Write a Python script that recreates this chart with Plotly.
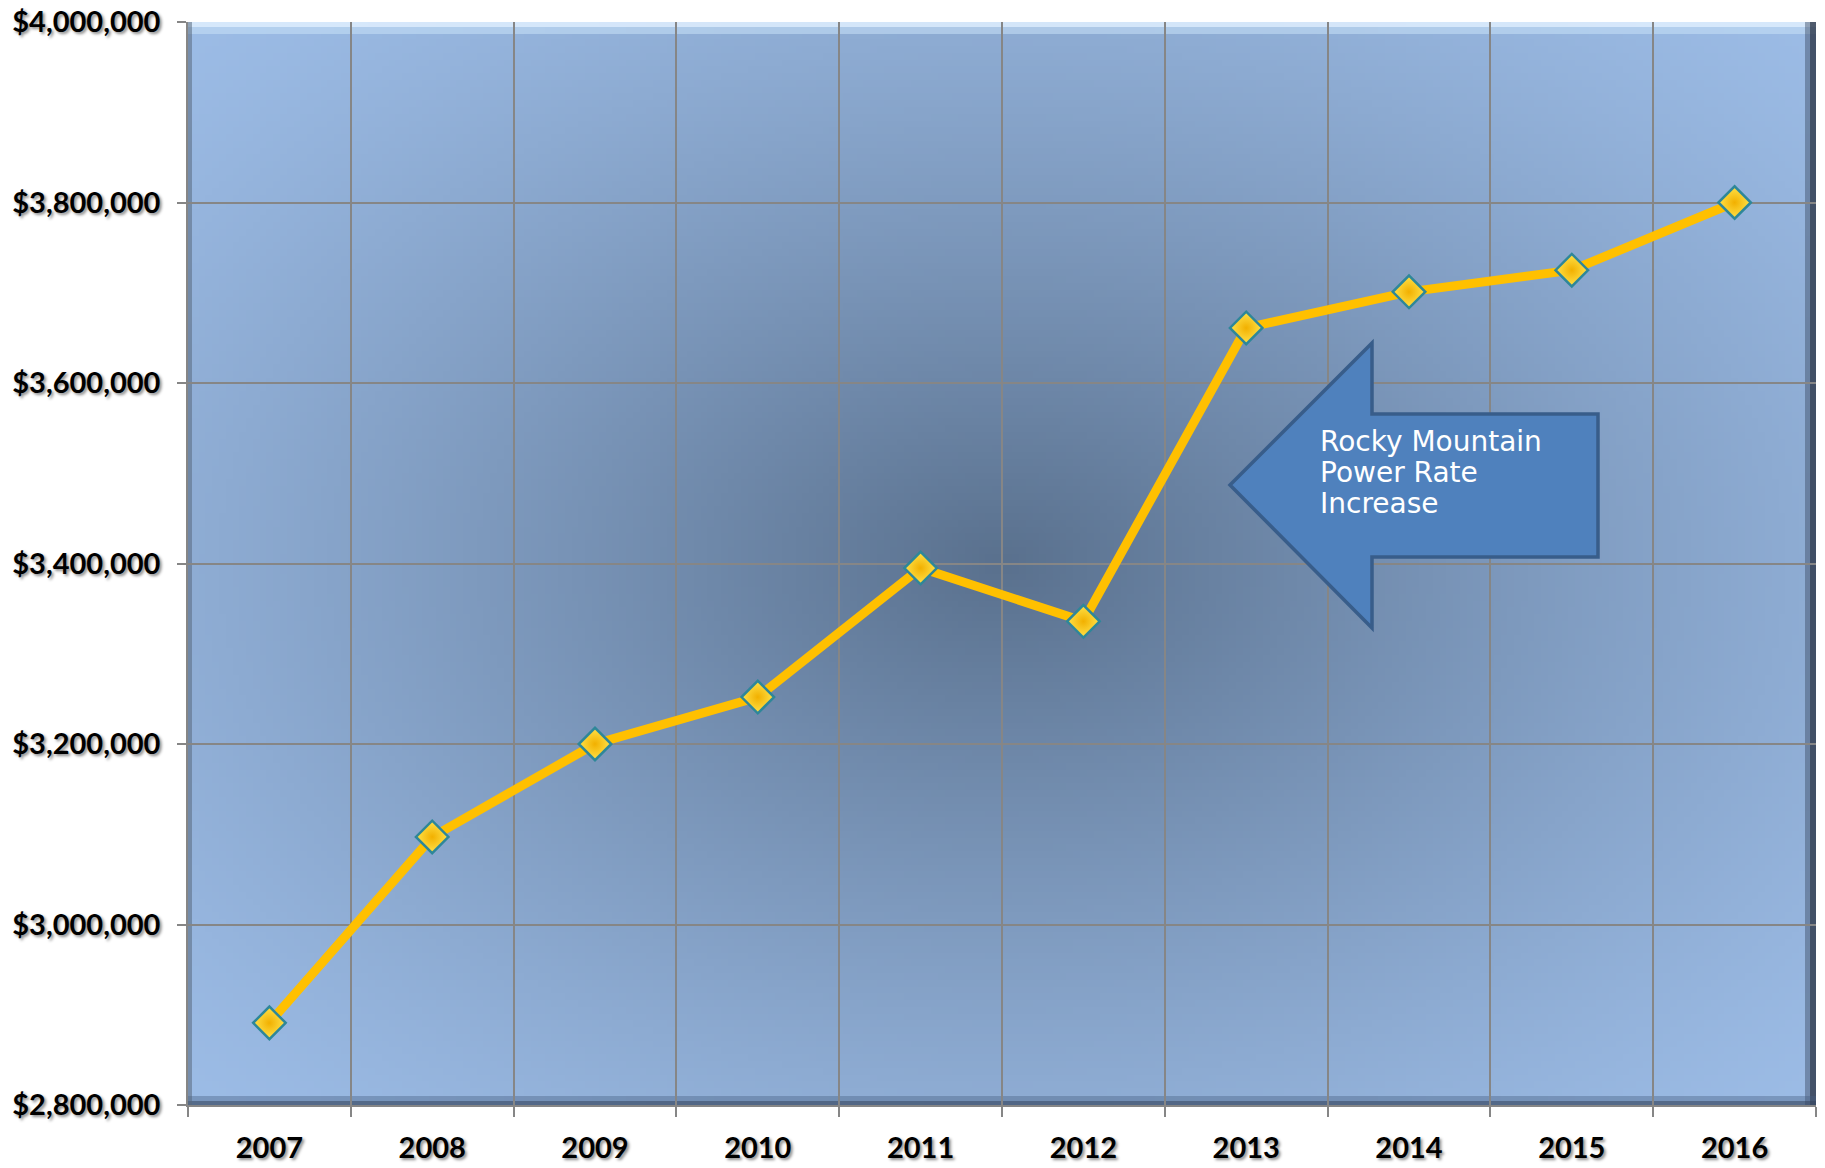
import base64, struct, zlib
import numpy as np
import plotly.graph_objects as go

# ---- data ----
years = ["2007", "2008", "2009", "2010", "2011", "2012", "2013", "2014", "2015", "2016"]
costs = [2891000, 3097000, 3200000, 3252000, 3395000, 3336000, 3661000, 3701000, 3725000, 3800000]
y_ticks = [2800000, 3000000, 3200000, 3400000, 3600000, 3800000, 4000000]
y_tick_labels = ["$2,800,000", "$3,000,000", "$3,200,000", "$3,400,000", "$3,600,000", "$3,800,000", "$4,000,000"]
arrow_lines = ["Rocky Mountain", "Power Rate", "Increase"]

# ---- background radial gradient as PNG data URI ----
W, H = 240, 160
u = np.linspace(-1, 1, W)[None, :]
v = np.linspace(-1, 1, H)[:, None]
r = np.sqrt(u ** 2 + v ** 2) / np.sqrt(2)
t = np.clip(1 - r, 0, 1) ** 1.3
edge = np.array([156, 188, 230])
center = np.array([90, 113, 142])
img = (edge[None, None, :] - (edge - center)[None, None, :] * t[:, :, None]).astype(np.uint8)

def png_uri(a):
    h, w, _ = a.shape
    raw = b"".join(b"\x00" + a[i].tobytes() for i in range(h))
    def chunk(tag, data):
        return struct.pack(">I", len(data)) + tag + data + struct.pack(">I", zlib.crc32(tag + data) & 0xffffffff)
    png = b"\x89PNG\r\n\x1a\n" + chunk(b"IHDR", struct.pack(">IIBBBBB", w, h, 8, 2, 0, 0, 0)) \
        + chunk(b"IDAT", zlib.compress(raw, 9)) + chunk(b"IEND", b"")
    return "data:image/png;base64," + base64.b64encode(png).decode()

bg_uri = png_uri(img)

fig = go.Figure()
fig.add_trace(go.Scatter(
    x=years, y=costs, mode="lines+markers",
    line=dict(color="#FFC000", width=9),
    marker=dict(symbol="diamond", size=25, color="#FFE24A",
                gradient=dict(type="radial", color="#F2B000"),
                line=dict(color="#2E8799", width=2.5)),
    showlegend=False, hoverinfo="x+y",
))

fig.add_layout_image(dict(source=bg_uri, xref="paper", yref="paper", x=0, y=1,
                          sizex=1, sizey=1, sizing="stretch", layer="below", xanchor="left", yanchor="top"))

# bevel edges
T, B, L, R = 22, 1105, 188, 1816
PW, PH = R - L, B - T
def px(x): return (x - L) / PW
def py(y): return 1 - (y - T) / PH
bands = [
    (0, 1, py(T + 5), 1, "rgba(225,240,255,0.85)"),
    (0, 1, py(T + 12), py(T + 5), "rgba(200,225,248,0.55)"),
    (px(1810), 1, 0, 1, "rgba(45,55,72,0.8)"),
    (px(1805), px(1810), 0, 1, "rgba(60,75,100,0.45)"),
    (0, 1, 0, py(B - 4), "rgba(55,72,100,0.7)"),
    (0, 1, py(B - 4), py(B - 9), "rgba(70,95,130,0.4)"),
    (0, px(L + 4), 0, 1, "rgba(90,105,125,0.55)"),
]
for x0, x1, y0, y1, c in bands:
    fig.add_shape(type="rect", xref="paper", yref="paper", x0=x0, x1=x1, y0=y0, y1=y1,
                  fillcolor=c, line_width=0, layer="below")

# arrow
pts = [(1230, 485), (1372, 343), (1372, 414), (1598, 414), (1598, 557), (1372, 557), (1372, 628)]
path = "M " + " L ".join(f"{px(a):.5f},{py(b):.5f}" for a, b in pts) + " Z"
fig.add_shape(type="path", xref="paper", yref="paper", path=path,
              fillcolor="#4F81BD", line=dict(color="#385D8A", width=3.5), layer="above")
for i, line_txt in enumerate(arrow_lines):
    fig.add_annotation(xref="paper", yref="paper", x=px(1318), y=py(441 + 31.5 * i),
                       xanchor="left", yanchor="middle", text=line_txt, showarrow=False, align="left",
                       font=dict(family="DejaVu Sans", size=28, color="white"))

tickfont = dict(family="Lato", size=29, color="black", weight="bold",
                shadow="2px 2px 3px rgba(0,0,0,0.45)")
fig.update_xaxes(type="category", range=[-0.5, 9.5], tickson="boundaries", automargin=False,
                 showgrid=True, gridcolor="#868686", gridwidth=1.5,
                 ticks="outside", ticklen=10, tickcolor="#868686", tickwidth=1.5,
                 showline=True, linecolor="#868686", linewidth=1.5,
                 tickfont=tickfont, ticklabelstandoff=16)
fig.update_yaxes(range=[2800000, 4000000], tickvals=y_ticks, ticktext=y_tick_labels, automargin=False,
                 showgrid=True, gridcolor="#868686", gridwidth=1.5, zeroline=False,
                 ticks="outside", ticklen=9, tickcolor="#868686", tickwidth=1.5,
                 showline=True, linecolor="#868686", linewidth=1.5,
                 tickfont=tickfont, ticklabelstandoff=11)
fig.update_layout(width=1825, height=1168, margin=dict(l=L, r=1825 - R, t=T, b=1168 - B),
                  paper_bgcolor="white", plot_bgcolor="#7f9cc4")
fig.write_html("out.html")
